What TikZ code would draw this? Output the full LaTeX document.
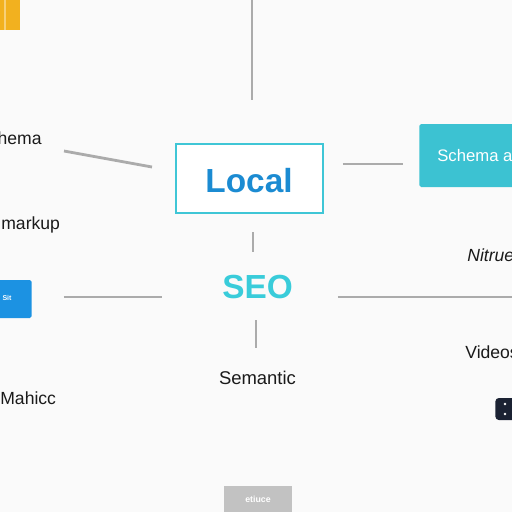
\documentclass[tikz,border=0pt]{standalone}
\usepackage{fontspec}
\setmainfont{Liberation Sans}
\usepackage{tikz}
\usetikzlibrary{positioning,calc}
\definecolor{Paper}{HTML}{FAFAFA}
\definecolor{Rule}{HTML}{ABABAB}
\definecolor{Ink}{HTML}{1A1A1A}
\definecolor{Aqua}{HTML}{3FC6D6}
\definecolor{Ocean}{HTML}{1B8BD2}
\definecolor{Sky}{HTML}{1C92E2}
\definecolor{Amber}{HTML}{F2B11F}
\definecolor{Slate}{HTML}{C2C2C2}
\definecolor{Night}{HTML}{1B2233}
\tikzset{
    % plain labels round the hub
    leaflabel/.style={
        inner sep=0pt,
        text=Ink,
        font=\fontsize{10}{12}\selectfont
    },
    % filled tiles at the edges
    tilebox/.style={
        rectangle,
        inner sep=0pt,
        text=white,
        align=center
    },
    spoke/.style={
        draw=Rule,
        line width=1.6pt
    }
}
\begin{document}
\begin{tikzpicture}[x=0.02cm,y=-0.02cm]
    \useasboundingbox[fill=Paper] (0,0) rectangle (512,512);
    % corner tile
    \node[tilebox, fill=Amber, minimum width=0.4cm, minimum height=0.6cm, anchor=north west] (amber) at (0,0) {};
    \draw[white!40!Amber, line width=1pt] (5,0) -- (5,30);
    % hub
    \node[rectangle, draw=Aqua, line width=1.3pt, fill=white, minimum width=2.94cm, minimum height=1.38cm] (local) at (249.5,178.5) {};
    \node[text=Ocean, font=\bfseries\fontsize{19}{23}\selectfont, inner sep=0pt] (localtext) at (249,181) {Local};
    \node[text=Aqua!90!cyan, font=\bfseries\fontsize{19}{22}\selectfont, inner sep=0pt] (seo) at (257.5,287) {SEO};
    \node[leaflabel, font=\fontsize{10.5}{12}\selectfont] (semantic) at (257.5,378) {Semantic};
    % left side
    \node[leaflabel, anchor=east] (schemaleft) at (42,138) {Schema};
    \node[leaflabel, anchor=west] (markup) at (1,225) {markup};
    \node[tilebox, fill=Sky, minimum width=1.04cm, minimum height=0.76cm, anchor=east, rounded corners=1pt] (bluetile) at (32,299) {};
    \node[text=white, font=\bfseries\fontsize{4}{5}\selectfont, inner sep=0pt] (bluetext) at (7,298) {Sit};
    \node[leaflabel, anchor=west] (mahicc) at (0,398) {Mahicc};
    % right side
    \node[tilebox, fill=Aqua!95!teal, minimum width=2.3cm, minimum height=1.26cm, anchor=west, rounded corners=1pt] (schematile) at (419,155.5) {};
    \node[text=white, anchor=west, inner sep=0pt, font=\fontsize{9.5}{12}\selectfont] (schematext) at (437,156) {Schema a};
    \node[leaflabel, anchor=west, font=\itshape\fontsize{10}{12}\selectfont] (nitrue) at (467,255) {Nitrue};
    \node[leaflabel, anchor=west] (videos) at (465,352) {Videos};
    \node[tilebox, fill=Night, minimum width=0.7cm, minimum height=0.44cm, anchor=west, rounded corners=2pt] (darktile) at (495,409) {};
    \fill[white] (505,404) circle (1.3);
    \fill[white] (505,414) circle (1.3);
    % bottom tile
    \node[tilebox, fill=Slate, minimum width=1.36cm, minimum height=0.7cm, anchor=north] (greytile) at (258,486) {};
    \node[text=white, font=\bfseries\fontsize{5}{6}\selectfont, inner sep=0pt] (greytext) at (258,499) {etiuce};
    % free ends of the spokes
    \coordinate (topend) at (252,0);
    \coordinate (topstart) at (252,100);
    \coordinate (lefta) at (64,151);
    \coordinate (leftb) at (152,167);
    \coordinate (leftc) at (64,297);
    \coordinate (leftd) at (162,297);
    \coordinate (righta) at (343,164);
    \coordinate (rightb) at (403,164);
    \coordinate (rightc) at (338,297);
    \coordinate (rightd) at (512,297);
    \coordinate (upa) at (253,232);
    \coordinate (upb) at (253,252);
    \coordinate (downa) at (256,320);
    \coordinate (downb) at (256,348);
    % spokes
    \draw[spoke] (topend) -- (topstart);
    \draw[spoke] (lefta) -- (leftb);
    \draw[spoke] (leftc) -- (leftd);
    \draw[spoke] (righta) -- (rightb);
    \draw[spoke] (rightc) -- (rightd);
    \draw[spoke] (upa) -- (upb);
    \draw[spoke] (downa) -- (downb);
\end{tikzpicture}
\end{document}
